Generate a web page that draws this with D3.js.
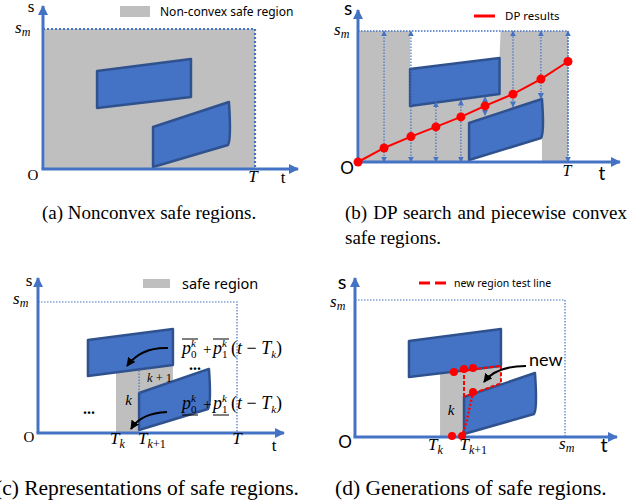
<!DOCTYPE html>
<html>
<head>
<meta charset="utf-8">
<script src="https://cdn.jsdelivr.net/npm/d3@7"></script>
<style>
  body { margin: 0; background: #fff; }
  svg { display: block; }
</style>
</head>
<body>
<script>
// all marks live in (t, s) units: t in [0, T = 10], s in [0, s_m = 10]

// (a) obstacles
const upperA = [[2.55, 7.0], [6.98, 7.86], [6.98, 5.14], [2.55, 4.36]];
const lowerA = [[5.19, 3.0], [8.77, 4.79], [8.77, 1.79], [5.19, 0.14]];

// (b) obstacles, DP result and the vertical probes
const upperB = [[2.48, 7.1], [6.74, 7.94], [6.74, 5.19], [2.48, 4.27]];
const lowerB = [[5.29, 2.98], [8.76, 4.81], [8.76, 1.91], [5.29, 0.15]];
const dpT = [0, 1.24, 2.52, 3.71, 4.9, 6.05, 7.38, 8.71, 10];
const dpS = [0, 1.07, 1.94, 2.68, 3.44, 4.28, 5.18, 6.33, 7.67];
const probeT = [1.24, 2.52, 3.71, 4.9, 6.05, 7.38, 8.71, 10];
const probeLo = [0, 0, 0, 0, 3.57, 4.21, 4.85, 0];
const probeHi = [10, 10, 4.59, 4.72, 4.97, 10, 10, 10];

// (c) obstacles and safe region k / k+1
const upperC = [[2.51, 7.1], [6.78, 7.94], [6.78, 5.19], [2.51, 4.35]];
const lowerC = [[5.08, 3.05], [8.59, 4.89], [8.59, 1.91], [5.08, 0.23]];
const regionC = [[3.92, 0], [5.08, 0], [5.08, 3.05], [6.78, 3.94], [6.78, 5.6], [3.92, 5.6]];
const tkC = [3.92, 5.08];
const splitC = [[5.08, 3.05], [5.08, 4.86]];

// (d) obstacles, region k and the new-region test line
const upperD = [[2.57, 7.0], [6.95, 7.88], [6.95, 5.18], [2.57, 4.38]];
const lowerD = [[5.19, 2.92], [8.57, 4.67], [8.57, 1.75], [5.19, 0.22]];
const regionD = [[4.05, 0], [5.19, 0], [5.19, 2.92], [6.95, 3.83], [6.95, 5.6], [4.05, 5.6]];
const testDash = [[4.71, 4.74], [6.95, 5.2], [6.95, 3.92], [5.19, 2.94]];
const testVert = [[5.19, 4.96], [5.19, 2.94]];
const testDot = [[5.62, 3.28], [5.33, 1.24], [5.1, 0.07]];
const testPts = [[4.71, 4.74], [5.19, 4.96], [5.62, 5.04], [5.62, 3.28], [4.62, 0.07], [5.1, 0.07]];
const tkD = [3.95, 5.55];

const W = 644, H = 504;
const BLUE = "#4472c4", EDGE = "#2f528f", GRAY = "#bfbfbf", RED = "#ff0000";
const serif = "'Liberation Serif', 'Times New Roman', serif";
const sans = "Lato, 'Open Sans', sans-serif";
const legendFont = "'Noto Sans', 'Open Sans', sans-serif";

const svg = d3.select("body").append("svg").attr("width", W).attr("height", H);
const defs = svg.append("defs");

function marker(id, color, w, h) {
  defs.append("marker")
      .attr("id", id)
      .attr("viewBox", "0 0 10 10")
      .attr("refX", 9).attr("refY", 5)
      .attr("markerUnits", "userSpaceOnUse")
      .attr("markerWidth", w).attr("markerHeight", h)
      .attr("orient", "auto-start-reverse")
    .append("path")
      .attr("d", "M0,0L10,5L0,10Z")
      .attr("fill", color);
}
marker("axisHead", BLUE, 11, 10);
marker("probeHead", BLUE, 6, 6);
marker("blackHead", "#000", 9, 9);

function panel(cfg) {
  const x = d3.scaleLinear().domain([0, 10]).range([cfg.ox, cfg.tx]);
  const y = d3.scaleLinear().domain([0, 10]).range([cfg.oy, cfg.sy]);
  const g = svg.append("g");
  const line = d3.line().x(d => x(d[0])).y(d => y(d[1]));
  return { ...cfg, x, y, g, line };
}

function block(p, pts, curved) {
  let d;
  if (curved) {
    const [a, b, c, e] = pts.map(q => [p.x(q[0]), p.y(q[1])]);
    d = `M${a}L${b}Q${b[0] + 2.5},${c[1] - 4} ${c[0] - 1},${c[1] + 1}L${e}Z`;
  } else {
    d = p.line(pts) + "Z";
  }
  p.g.append("path")
      .attr("d", d)
      .attr("fill", BLUE)
      .attr("stroke", EDGE)
      .attr("stroke-width", 2.5)
      .attr("stroke-linejoin", "round");
}

function frame(p, width, dash) {
  p.g.append("path")
      .attr("d", p.line([[0, 10], [10, 10], [10, 0]]))
      .attr("fill", "none")
      .attr("stroke", BLUE)
      .attr("stroke-width", width)
      .attr("stroke-dasharray", dash);
}

function axes(p) {
  p.g.append("line")
      .attr("x1", p.x(0)).attr("y1", p.y(0))
      .attr("x2", p.x(0)).attr("y2", p.yTop)
      .attr("stroke", BLUE).attr("stroke-width", 3)
      .attr("marker-end", "url(#axisHead)");
  p.g.append("line")
      .attr("x1", p.x(0) - 1.5).attr("y1", p.y(0))
      .attr("x2", p.xEnd).attr("y2", p.y(0))
      .attr("stroke", BLUE).attr("stroke-width", 3)
      .attr("marker-end", "url(#axisHead)");
}

function text(g, x, y, html, size, family, anchor) {
  return g.append("text")
      .attr("x", x).attr("y", y)
      .attr("font-size", size)
      .attr("font-family", family)
      .attr("text-anchor", anchor || "start")
      .attr("fill", "#000")
      .html(html);
}
const it = s => `<tspan font-style="italic">${s}</tspan>`;
const sm = `${it("s")}<tspan font-style="italic" font-size="12" dy="3">m</tspan>`;
const Tk = `${it("T")}<tspan font-style="italic" font-size="12" dy="4">k</tspan>`;
const Tk1 = `${it("T")}<tspan font-style="italic" font-size="12" dy="4">k</tspan><tspan font-size="12">+1</tspan>`;

function curvedArrow(g, from, ctrl, to) {
  g.append("path")
      .attr("d", `M${from}Q${ctrl} ${to}`)
      .attr("fill", "none")
      .attr("stroke", "#000")
      .attr("stroke-width", 2)
      .attr("marker-end", "url(#blackHead)");
}

// ---------- (a) ----------
const A = panel({ ox: 43, oy: 169, tx: 255, sy: 29, yTop: 6, xEnd: 298 });
A.g.append("rect")
    .attr("x", A.x(0) + 1.5).attr("y", A.y(10))
    .attr("width", A.x(10) - A.x(0) - 1.5).attr("height", A.y(0) - A.y(10))
    .attr("fill", GRAY);
block(A, upperA, false);
block(A, lowerA, true);
frame(A, 2.2, "2,2");
axes(A);
A.g.append("rect").attr("x", 120).attr("y", 6).attr("width", 30).attr("height", 11).attr("fill", GRAY);
text(A.g, 160, 16, "Non-convex safe region", 12, legendFont);
text(A.g, 31, 12, "s", 17, serif, "middle");
text(A.g, 15, 33, sm, 17, serif);
text(A.g, 33, 180, "O", 15, serif, "middle");
text(A.g, A.x(10) - 2, 182, it("T"), 17, serif, "middle");
text(A.g, 283, 183, "t", 17, serif, "middle");

// ---------- (b) ----------
const B = panel({ ox: 358, oy: 162, tx: 568, sy: 31, yTop: 10, xEnd: 620 });
B.g.append("rect")
    .attr("x", B.x(0) + 1.5).attr("y", B.y(10))
    .attr("width", B.x(10) - B.x(0) - 1.5).attr("height", B.y(0) - B.y(10))
    .attr("fill", GRAY);
// unsafe area above the upper obstacle and below the lower one
B.g.append("path")
    .attr("d", B.line([upperB[0], upperB[1], [upperB[1][0] + 0.05, 10], [upperB[0][0], 10]]) + "Z")
    .attr("fill", "#fff");
B.g.append("path")
    .attr("d", B.line([lowerB[3], lowerB[2], [lowerB[2][0], 0], [lowerB[3][0], 0]]) + "Z")
    .attr("fill", "#fff");
block(B, upperB, false);
block(B, lowerB, true);
frame(B, 1.3, "1.5,1.5");
probeT.forEach((t, i) => {
  B.g.append("line")
      .attr("x1", B.x(t)).attr("y1", B.y(probeLo[i]))
      .attr("x2", B.x(t)).attr("y2", B.y(probeHi[i]))
      .attr("stroke", BLUE).attr("stroke-width", 1.2)
      .attr("stroke-dasharray", "1.5,1.5")
      .attr("marker-start", "url(#probeHead)")
      .attr("marker-end", "url(#probeHead)");
});
axes(B);
B.g.append("path")
    .attr("d", B.line(dpT.map((t, i) => [t, dpS[i]])))
    .attr("fill", "none").attr("stroke", RED).attr("stroke-width", 2);
B.g.selectAll("circle.dp").data(dpT).join("circle")
    .attr("cx", d => B.x(d))
    .attr("cy", (d, i) => B.y(dpS[i]))
    .attr("r", 4.5)
    .attr("fill", RED);
B.g.append("line").attr("x1", 474).attr("x2", 495).attr("y1", 16).attr("y2", 16)
    .attr("stroke", RED).attr("stroke-width", 3);
text(B.g, 505, 20, "DP results", 11.5, legendFont);
text(B.g, 348, 15, "s", 19, sans, "middle");
text(B.g, 334, 35, sm, 17, serif);
text(B.g, 347, 174, "O", 17, sans, "middle");
text(B.g, B.x(10) - 1, 176, it("T"), 16, serif, "middle");
text(B.g, 602, 180, "t", 19, sans, "middle");

// ---------- (c) ----------
const C = panel({ ox: 38, oy: 433, tx: 237, sy: 302, yTop: 278, xEnd: 284 });
C.g.append("path").attr("d", C.line(regionC) + "Z").attr("fill", GRAY);
frame(C, 1.2, "1.5,1.5");
block(C, upperC, false);
block(C, lowerC, true);
C.g.append("path")
    .attr("d", C.line(splitC))
    .attr("stroke", BLUE).attr("stroke-width", 1.2).attr("stroke-dasharray", "1.5,1.5");
axes(C);
C.g.append("rect").attr("x", 143).attr("y", 279).attr("width", 27).attr("height", 9).attr("fill", GRAY);
text(C.g, 182, 289, "safe region", 14.5, legendFont);
text(C.g, 29, 286, "s", 17, serif, "middle");
text(C.g, 13, 304, sm, 17, serif);
text(C.g, 29, 442, "O", 15, serif, "middle");
text(C.g, C.x(tkC[0]) - 6, 444, Tk, 17, serif);
text(C.g, C.x(tkC[1]) - 1, 444, Tk1, 17, serif);
text(C.g, C.x(10), 444, it("T"), 17, serif, "middle");
text(C.g, 274, 451, "t", 17, serif, "middle");
text(C.g, 128.5, 405, it("k"), 15, serif, "middle");
text(C.g, 159.5, 382, `${it("k")} + 1`, 12.5, serif, "middle");
text(C.g, 195, 370, "...", 16, serif, "middle").attr("font-weight", "bold");
text(C.g, 89, 414, "...", 16, serif, "middle").attr("font-weight", "bold");

function formula(g, x, y, mark) {
  text(g, x, y, it("p"), 18, serif);
  text(g, x + 9, y - 7, it("k"), 11, serif);
  text(g, x + 9, y + 4, "0", 11, serif);
  text(g, x + 21, y, "+", 15, serif);
  text(g, x + 31, y, it("p"), 18, serif);
  text(g, x + 40, y - 7, it("k"), 11, serif);
  text(g, x + 40, y + 4, "1", 11, serif);
  text(g, x + 49, y, `(${it("t")} \u2212 ${it("T")}<tspan font-style="italic" font-size="11" dy="4">k</tspan><tspan dy="-4">)</tspan>`, 18, serif);
  const yy = mark === "over" ? y - 15 : y + 6;
  [[x, x + 16], [x + 31, x + 47]].forEach(([a, b]) => {
    g.append("line").attr("x1", a).attr("x2", b).attr("y1", yy).attr("y2", yy)
        .attr("stroke", "#000").attr("stroke-width", 1);
  });
}
formula(C.g, 182, 354, "over");
formula(C.g, 182, 409, "under");
curvedArrow(C.g, [168, 348], [141, 347], [127, 366]);
curvedArrow(C.g, [167, 412], [141, 413], [131, 429]);

// ---------- (d) ----------
const D = panel({ ox: 355, oy: 437, tx: 565, sy: 300, yTop: 278, xEnd: 617 });
D.g.append("path").attr("d", D.line(regionD) + "Z").attr("fill", GRAY);
frame(D, 1.2, "1.5,1.5");
block(D, upperD, false);
block(D, lowerD, true);
axes(D);
D.g.append("path").attr("d", D.line(testDash))
    .attr("fill", "none").attr("stroke", RED).attr("stroke-width", 2).attr("stroke-dasharray", "4,2");
D.g.append("path").attr("d", D.line(testVert))
    .attr("fill", "none").attr("stroke", RED).attr("stroke-width", 2).attr("stroke-dasharray", "4,2");
D.g.append("path").attr("d", D.line(testDot))
    .attr("fill", "none").attr("stroke", RED).attr("stroke-width", 2.5).attr("stroke-dasharray", "2,2");
D.g.selectAll("circle.t").data(testPts).join("circle")
    .attr("cx", d => D.x(d[0]))
    .attr("cy", d => D.y(d[1]))
    .attr("r", 4)
    .attr("fill", RED);
D.g.append("line").attr("x1", 419).attr("x2", 446).attr("y1", 283).attr("y2", 283)
    .attr("stroke", RED).attr("stroke-width", 3).attr("stroke-dasharray", "11,5");
text(D.g, 454, 287, "new region test line", 10.5, legendFont);
text(D.g, 342, 289, "s", 20, sans, "middle");
text(D.g, 330, 307, sm, 17, serif);
text(D.g, 345, 448, "O", 17, sans, "middle");
text(D.g, D.x(tkD[0]) - 10, 450, Tk, 17, serif);
text(D.g, D.x(tkD[1]) - 12, 450, Tk1, 17, serif);
text(D.g, 559, 449, sm, 17, serif);
text(D.g, 604, 452, "t", 20, sans, "middle");
text(D.g, 451, 415, it("k"), 15, serif, "middle");
text(D.g, 529, 366, "new", 18, sans);
curvedArrow(D.g, [526, 366], [496, 366], [484, 382]);

// ---------- captions ----------
const capTop = svg.append("g").attr("font-family", serif).attr("font-size", 19);
capTop.append("text").attr("x", 42).attr("y", 219).text("(a) Nonconvex safe regions.");
const bl = capTop.append("text").attr("x", 345).attr("y", 219).text("(b) DP search and piecewise convex");
const natural = bl.node().getComputedTextLength();
bl.attr("word-spacing", Math.max(0, (282 - natural) / 5));
capTop.append("text").attr("x", 345).attr("y", 244).text("safe regions.");
const capBot = svg.append("g").attr("font-family", serif).attr("font-size", 21.5);
capBot.append("text").attr("x", -5).attr("y", 495).text("(c) Representations of safe regions.");
capBot.append("text").attr("x", 335).attr("y", 495).text("(d) Generations of safe regions.");
</script>
</body>
</html>
